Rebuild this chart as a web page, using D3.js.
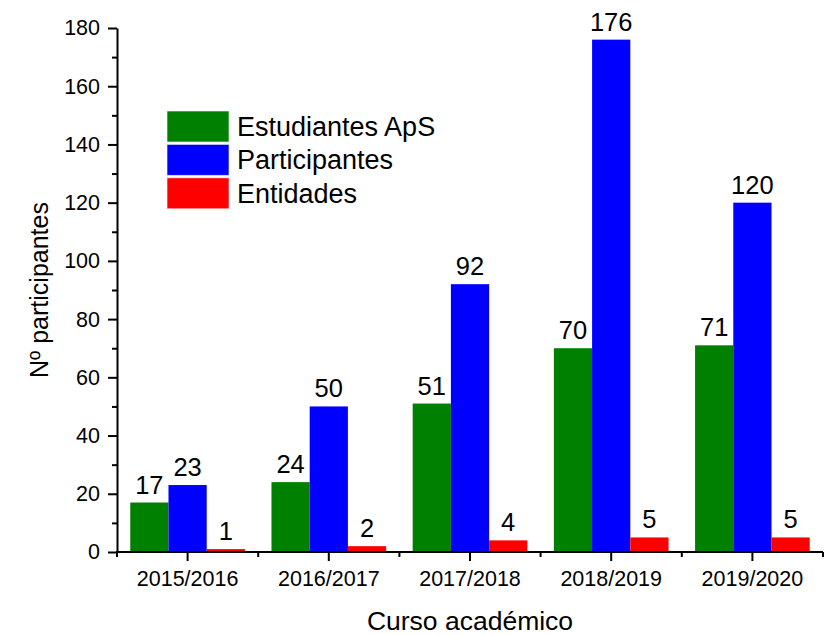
<!DOCTYPE html>
<html>
<head>
<meta charset="utf-8">
<script src="https://cdn.jsdelivr.net/npm/d3@7"></script>
<style>
  body { margin: 0; background: #fff; }
  svg { display: block; font-family: "Liberation Sans", Arial, sans-serif; }
</style>
</head>
<body>
<svg id="chart" width="830" height="635"></svg>
<script>
const categories = ["2015/2016", "2016/2017", "2017/2018", "2018/2019", "2019/2020"];
const seriesNames = ["Estudiantes ApS", "Participantes", "Entidades"];
const estudiantes = [17, 24, 51, 70, 71];
const participantes = [23, 50, 92, 176, 120];
const entidades = [1, 2, 4, 5, 5];
const seriesColors = ["#008000", "#0000FF", "#FF0000"];
const yTicks = [0, 20, 40, 60, 80, 100, 120, 140, 160, 180];
const yMinorTicks = [10, 30, 50, 70, 90, 110, 130, 150, 170];

(function () {
const seriesValues = [estudiantes, participantes, entidades];
const data = categories.map((c, i) => ({
  cat: c,
  vals: seriesNames.map((s, j) => ({ key: s, value: seriesValues[j][i], color: seriesColors[j] }))
}));

const svg = d3.select("#chart");
const mLeft = 117, mRight = 823, mTop = 28, mBottom = 552;

const x0 = d3.scaleBand().domain(categories).range([mLeft, mRight]).padding(0);
const bw = x0.bandwidth();
const pad = bw * 0.094;
const x1 = d3.scaleBand().domain(seriesNames).range([pad, bw - pad]).padding(0);
const y = d3.scaleLinear().domain([0, 180]).range([mBottom, mTop]);

// bars
const g = svg.append("g");
const groups = g.selectAll("g.grp").data(data).enter().append("g")
  .attr("transform", d => `translate(${x0(d.cat)},0)`);
groups.selectAll("rect").data(d => d.vals).enter().append("rect")
  .attr("x", d => x1(d.key))
  .attr("width", x1.bandwidth())
  .attr("y", d => y(d.value))
  .attr("height", d => y(0) - y(d.value))
  .attr("fill", d => d.color);
groups.selectAll("text").data(d => d.vals).enter().append("text")
  .attr("x", d => x1(d.key) + x1.bandwidth() / 2)
  .attr("y", d => y(d.value) - 9)
  .attr("text-anchor", "middle")
  .attr("font-size", 25.5)
  .attr("fill", "#000")
  .text(d => d.value);

// y axis
const yAxis = svg.append("g").attr("transform", `translate(${mLeft},0)`)
  .call(d3.axisLeft(y).tickValues(yTicks).tickSize(9).tickPadding(8).tickSizeOuter(0));
yAxis.selectAll("text").attr("font-size", 21.5).attr("fill", "#000")
  .attr("font-family", "Liberation Sans, Arial, sans-serif");
yAxis.select(".domain").attr("stroke-width", 2).attr("stroke", "#000");
yAxis.selectAll(".tick line").attr("stroke-width", 2).attr("stroke", "#000");
svg.append("g").attr("transform", `translate(${mLeft},0)`)
  .call(d3.axisLeft(y).tickValues(yMinorTicks).tickSize(5).tickFormat("").tickSizeOuter(0))
  .call(s => s.select(".domain").remove())
  .selectAll(".tick line").attr("stroke-width", 2).attr("stroke", "#000");

// x axis
const xAxis = svg.append("g").attr("transform", `translate(0,${mBottom})`)
  .call(d3.axisBottom(x0).tickSize(9).tickPadding(10).tickSizeOuter(0));
xAxis.selectAll("text").attr("font-size", 21.5).attr("fill", "#000")
  .attr("font-family", "Liberation Sans, Arial, sans-serif");
xAxis.select(".domain").attr("stroke-width", 2).attr("stroke", "#000")
  .attr("d", `M${mLeft - 1},0H${mRight}`);
xAxis.selectAll(".tick line").attr("stroke-width", 2).attr("stroke", "#000");
const boundaries = categories.map(c => x0(c)).concat([mRight]);
svg.append("g").attr("transform", `translate(0,${mBottom})`)
  .selectAll("line").data(boundaries).enter().append("line")
  .attr("x1", d => d).attr("x2", d => d).attr("y1", 0).attr("y2", 5)
  .attr("stroke", "#000").attr("stroke-width", 2);

// axis titles
svg.append("text")
  .attr("x", (mLeft + mRight) / 2).attr("y", 630)
  .attr("text-anchor", "middle").attr("font-size", 26.5).attr("fill", "#000")
  .text("Curso académico");
svg.append("text")
  .attr("transform", `translate(48,${(mTop + mBottom) / 2}) rotate(-90)`)
  .attr("text-anchor", "middle").attr("font-size", 25).attr("fill", "#000")
  .text("Nº participantes");

// legend
const legend = svg.append("g").attr("transform", "translate(167,111)");
const items = legend.selectAll("g").data(seriesNames).enter().append("g")
  .attr("transform", (d, i) => `translate(0,${i * 33.4})`);
items.append("rect").attr("width", 62).attr("height", 31)
  .attr("fill", (d, i) => seriesColors[i])
  .attr("stroke", "#fff").attr("stroke-opacity", 0.6).attr("stroke-width", 1);
items.append("text").attr("x", 70).attr("y", 15.5).attr("dy", "0.35em")
  .attr("font-size", 27).attr("fill", "#000").text(d => d);
})();
</script>
</body>
</html>
